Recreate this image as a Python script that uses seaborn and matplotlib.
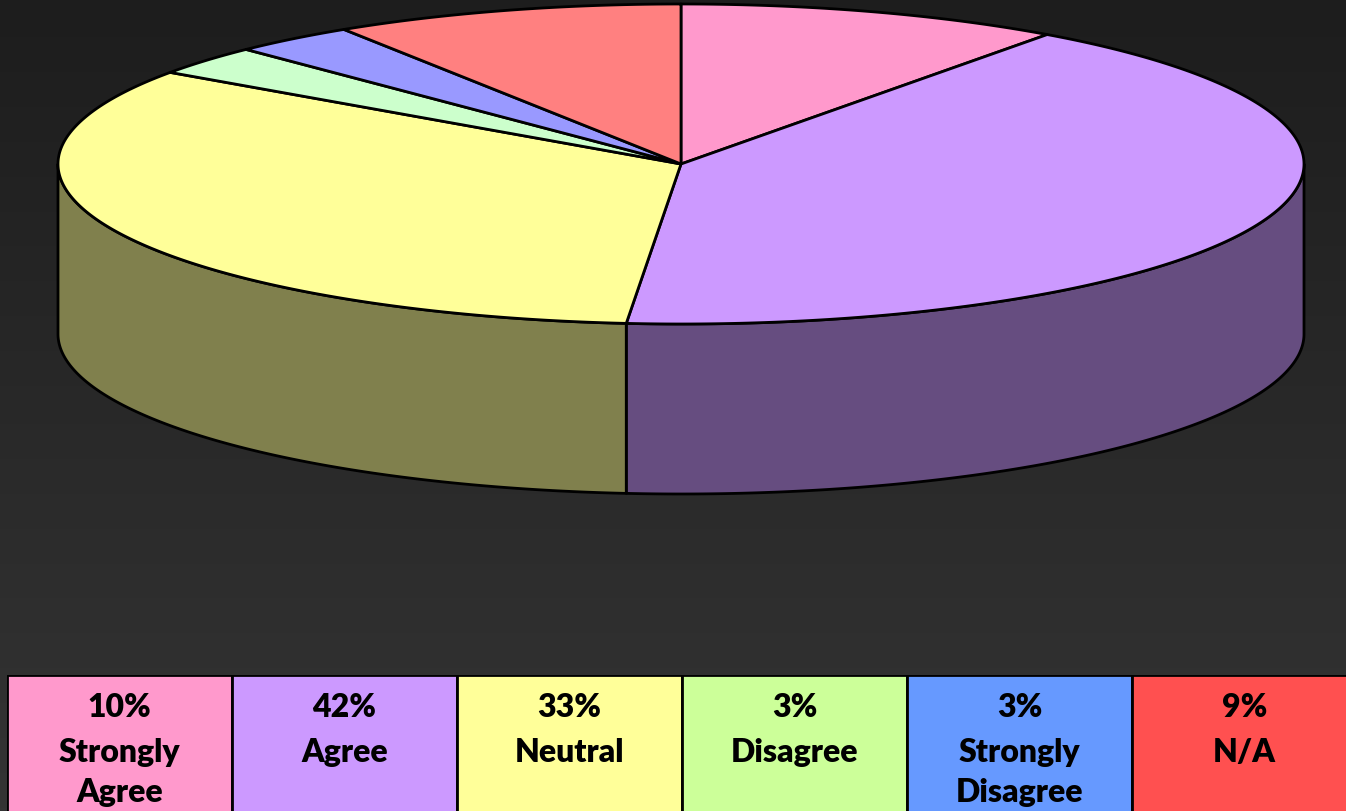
import numpy as np
import matplotlib
matplotlib.use("Agg")
import matplotlib.pyplot as plt
from matplotlib.patches import Polygon
from matplotlib.colors import LinearSegmentedColormap, to_rgb
import seaborn as sns

# survey answers, clockwise from 12 o'clock
categories = ["Strongly\nAgree", "Agree", "Neutral", "Disagree", "Strongly\nDisagree", "N/A"]
percent_labels = [10, 42, 33, 3, 3, 9]
# slice sizes as they appear in the drawn pie (percent)
slice_shares = [10.0, 41.4, 33.3, 3.0, 3.2, 9.1]
pie_colors = ["#FF99CC", "#CC99FF", "#FFFF99", "#CCFFCC", "#9999FF", "#FF8080"]
legend_colors = ["#FF99CC", "#CC99FF", "#FFFF99", "#CCFF99", "#6699FF", "#FF5050"]

sns.set_theme(style="white")
plt.rcParams['font.family'] = ['Lato', 'DejaVu Sans']

W, H = 1346, 812
fig = plt.figure(figsize=(W / 100, H / 100), dpi=100)
ax = fig.add_axes([0, 0, 1, 1])
ax.set_xlim(0, W)
ax.set_ylim(H, 0)
ax.axis('off')

# dark vertical gradient background
grad = np.linspace(0, 1, 256).reshape(-1, 1)
bg_cmap = LinearSegmentedColormap.from_list('bg', ['#1d1d1d', '#343434'])
ax.imshow(grad, extent=[0, W, H, 0], aspect='auto', cmap=bg_cmap, zorder=0)

# 3d pie geometry (pixels)
cx, cy, rx, ry, depth = 681, 165, 623, 160, 170


def rim(thetas, dy=0):
    t = np.radians(thetas)
    return np.column_stack([cx + rx * np.sin(t), cy - ry * np.cos(t) + dy])


edges = np.concatenate([[0], np.cumsum(slice_shares)]) * 3.6

# side walls (only the front half is visible)
for i, col in enumerate(pie_colors):
    s0, s1 = max(edges[i], 90), min(edges[i + 1], 270)
    if s1 <= s0:
        continue
    th = np.linspace(s0, s1, 200)
    pts = np.vstack([rim(th), rim(th[::-1], depth)])
    dark = tuple(c * 0.5 for c in to_rgb(col))
    ax.add_patch(Polygon(pts, closed=True, facecolor=dark, edgecolor='black',
                         lw=2, joinstyle='round', zorder=2))

# top face slices
for i, col in enumerate(pie_colors):
    th = np.linspace(edges[i], edges[i + 1], 200)
    pts = np.vstack([[cx, cy], rim(th)])
    ax.add_patch(Polygon(pts, closed=True, facecolor=col, edgecolor='black',
                         lw=2, joinstyle='round', zorder=3))

# legend table at the bottom (cells 225 px wide, last one runs off the edge)
tax = fig.add_axes([7 / W, -20 / H, 225 * 6 / W, 156 / H])
tax.set_xlim(-0.5, len(categories) - 0.5)
tax.set_ylim(156, 0)
tax.axis('off')
tax.bar(range(len(categories)), 156, width=1, bottom=0, color=legend_colors,
        edgecolor='black', linewidth=2)
for i, (lab, p) in enumerate(zip(categories, percent_labels)):
    tax.text(i, 41, f"{p}%", ha='center', va='baseline', fontsize=23,
             fontweight='heavy', color='black')
    for j, line in enumerate(lab.split("\n")):
        tax.text(i, 86 + 40 * j, line, ha='center', va='baseline', fontsize=23,
                 fontweight='heavy', color='black')

fig.savefig("out.png", dpi=100)
